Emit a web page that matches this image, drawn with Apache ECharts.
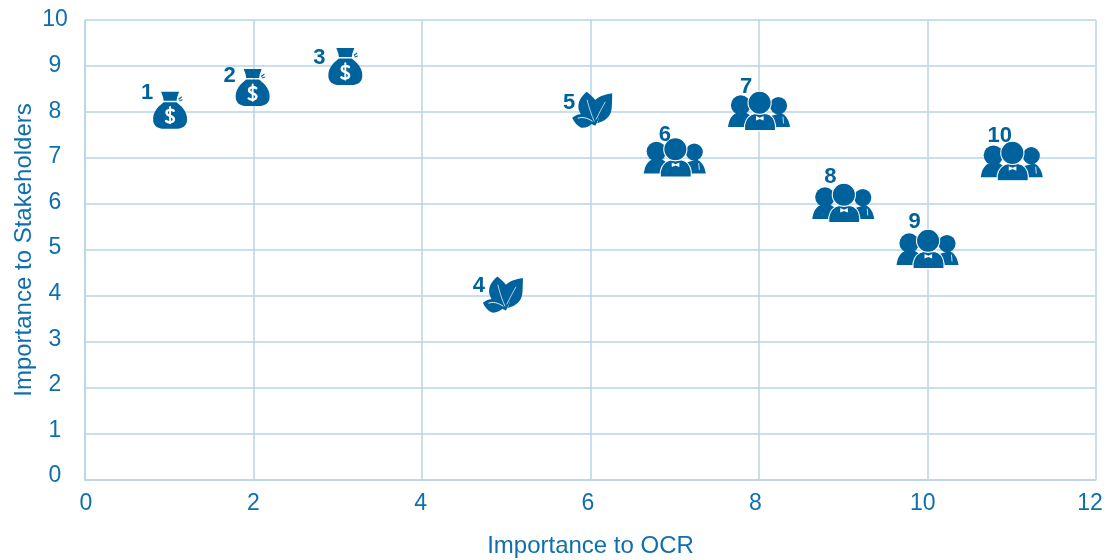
<!DOCTYPE html>
<html>
<head>
<meta charset="utf-8">
<title>Importance matrix</title>
<script src="https://cdn.jsdelivr.net/npm/echarts@6/dist/echarts.min.js"></script>
<style>
  html, body { margin: 0; background: #fff; }
  #chart { width: 1108px; height: 560px; }
</style>
</head>
<body>
<div id="chart"></div>
<script>
const ids = ["1", "2", "3", "4", "5", "6", "7", "8", "9", "10"];
const ocrValues = [1.01, 1.99, 3.09, 4.96, 6.02, 7, 8, 9, 10, 11];
const stakeholderValues = [8.04, 8.53, 8.99, 4.02, 8.04, 7.01, 8.02, 6.02, 5.02, 6.93];
const groups = ["money", "money", "money", "leaf", "leaf", "people", "people", "people", "people", "people"];
const xTicks = [0, 2, 4, 6, 8, 10, 12];
const yTicks = [0, 1, 2, 3, 4, 5, 6, 7, 8, 9, 10];

const BLUE = "#00629d";
const TEXT = "#0f6fae";
const GRID = "#b9d5e8";
const FONT = '"Liberation Sans", Arial, sans-serif';

// where each number sits relative to its icon, in pixels
const labelOffsets = [[-23, -17], [-23, -12], [-26, -9], [-24, -9], [-23, -7], [-10, -23], [-13, -24], [-13, -26], [-13, -27], [-12, -25]];

function fillPath(d) {
  return { type: "path", shape: { pathData: d }, style: { fill: BLUE } };
}
function linePath(d, width) {
  return { type: "path", shape: { pathData: d }, style: { fill: "none", stroke: "#fff", lineWidth: width, lineCap: "round" } };
}

// icons are drawn around 0,0 and moved onto the point by the group
const icons = {
  money: [
    fillPath("M-6.5 -8 C-10 -5 -17 0 -17 9 C-17 16 -12 18.5 -6 18.5 L6 18.5 C12 18.5 17 16 17 9 C17 0 10 -5 6.5 -8 Z"),
    fillPath("M-9 -18.5 L9 -18.5 L7 -13 L6.5 -9.5 L-6.5 -9.5 L-7 -13 Z"),
    fillPath("M8 -11.5 L11.5 -14 L12 -13 L9 -10.5 Z M9 -10 L12.5 -11 L12.5 -10 L9.5 -9 Z"),
    linePath("M3.6 0.6 C1.5 -1 -3.6 -0.8 -3.6 2.6 C-3.6 6.4 3.8 5 3.8 9 C3.8 12.4 -1.6 12.8 -4 10.8", 2.4),
    linePath("M0 -3.2 L0 13.2", 1.9)
  ],
  leaf: [
    fillPath("M-5.5 -18.5 C-11 -14 -15 -8 -13.5 -1 C-12 6 -4 13 3 15.5 C8 8 9 -1 5 -8 C2 -12 -2 -16 -5.5 -18.5 Z"),
    fillPath("M20 -17 C13 -16 6 -14 2 -9 C7 -2 8 6 5 13 C13 11 19 6 19.5 -2 C20 -8 20 -13 20 -17 Z"),
    fillPath("M-20 7.7 C-16 4.5 -12 3.6 -8.5 4 C-4 5 -1 9 1 12 C-2 16 -7 18 -11 17.5 C-15 16 -18 12 -20 7.7 Z"),
    linePath("M-5 -10 C-3 -2 -1 4 2 11", 0.7),
    linePath("M13 -8 C10 -3 7 3 4 9", 0.7),
    linePath("M-14 8 C-10 6.5 -5 7.5 0 11", 0.9)
  ],
  people: [
    { type: "circle", shape: { cx: -18.3, cy: -6, r: 9.8 }, style: { fill: BLUE } },
    { type: "circle", shape: { cx: 19.5, cy: -5.5, r: 8.6 }, style: { fill: BLUE } },
    fillPath("M-31 16 C-30 8 -27 3 -20 1 L-14 1 L-8 5 L-12 16 Z"),
    fillPath("M12 5 L22 2 C27 4 30 9 31 16 L17 16 Z"),
    linePath("M24 6 L24.5 12", 0.8),
    { type: "path", shape: { pathData: "M-14.5 19.5 L-14.5 14 C-13 7 -9 3.5 -4 2.5 L7 2.5 C12 3.5 15.5 7 16.5 14 L16.5 19.5 Z" }, style: { fill: BLUE, stroke: "#fff", lineWidth: 1.1 } },
    { type: "circle", shape: { cx: 0.6, cy: -8.3, r: 11.6 }, style: { fill: BLUE, stroke: "#fff", lineWidth: 1.1 } },
    { type: "path", shape: { pathData: "M-3 5 L0.8 6.6 L4.6 5 L4.6 9.5 L0.8 7.9 L-3 9.5 Z" }, style: { fill: "#fff" } }
  ]
};

function renderIcon(params, api) {
  const i = params.dataIndex;
  const pos = api.coord([api.value(0), api.value(1)]);
  const off = labelOffsets[i];
  return {
    type: "group",
    x: pos[0],
    y: pos[1],
    children: icons[groups[i]].concat([{
      type: "text",
      x: off[0],
      y: off[1],
      style: { text: ids[i], fill: BLUE, font: "bold 22px " + FONT, align: "center", verticalAlign: "middle" }
    }])
  };
}

const chart = echarts.init(document.getElementById("chart"), null, { renderer: "canvas" });
const tickText = { color: TEXT, fontFamily: FONT, fontSize: 23 };
const titleText = { color: TEXT, fontFamily: FONT, fontSize: 24 };
const gridLine = { color: GRID, width: 1.5 };

chart.setOption({
  animation: false,
  backgroundColor: "#fff",
  grid: [
    { left: 85, right: 12, top: 20, bottom: 80, outerBoundsMode: "none" },
    // the tick labels are spaced a little tighter than the grid lines, so they get their own axes
    { left: 86, right: 18, top: 20, bottom: 84, outerBoundsMode: "none" }
  ],
  xAxis: [
    {
      type: "value",
      min: xTicks[0],
      max: xTicks[xTicks.length - 1],
      interval: 2,
      name: "Importance to OCR",
      nameLocation: "middle",
      nameGap: 54,
      nameTextStyle: titleText,
      axisLine: { lineStyle: gridLine },
      axisTick: { show: false },
      axisLabel: { show: false },
      splitLine: { lineStyle: gridLine }
    },
    {
      gridIndex: 1,
      type: "value",
      min: xTicks[0],
      max: xTicks[xTicks.length - 1],
      interval: 2,
      axisLine: { show: false },
      axisTick: { show: false },
      splitLine: { show: false },
      axisLabel: Object.assign({ margin: 16 }, tickText)
    }
  ],
  yAxis: [
    {
      type: "value",
      min: yTicks[0],
      max: yTicks[yTicks.length - 1],
      interval: 1,
      name: "Importance to Stakeholders",
      nameLocation: "middle",
      nameGap: 49,
      nameTextStyle: titleText,
      axisLine: { show: true, lineStyle: gridLine },
      axisTick: { show: false },
      axisLabel: { show: false },
      splitLine: { lineStyle: gridLine }
    },
    {
      gridIndex: 1,
      type: "value",
      min: yTicks[0],
      max: yTicks[yTicks.length - 1],
      interval: 1,
      axisLine: { show: false },
      axisTick: { show: false },
      splitLine: { show: false },
      axisLabel: Object.assign({ margin: 31, align: "center" }, tickText)
    }
  ],
  series: [{
    type: "custom",
    xAxisIndex: 0,
    yAxisIndex: 0,
    clip: false,
    renderItem: renderIcon,
    data: ocrValues.map((v, i) => [v, stakeholderValues[i]])
  }]
});
</script>
</body>
</html>
